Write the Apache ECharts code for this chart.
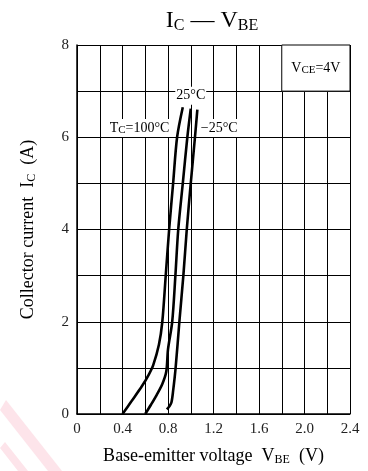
<!DOCTYPE html>
<html>
<head>
<meta charset="utf-8">
<script src="https://cdn.jsdelivr.net/npm/echarts@6/dist/echarts.min.js"></script>
<style>
  html, body { margin: 0; padding: 0; background: #fff; }
  #chart { width: 368px; height: 471px; }
</style>
</head>
<body>
<div id="chart"></div>
<script>
// IC - VBE curves, [VBE (V), IC (A)]
const tc100 = [[0.40, 0], [0.48, 0.28], [0.57, 0.6], [0.63, 0.85], [0.67, 1.06], [0.72, 1.5], [0.75, 2.0], [0.78, 3.0], [0.81, 4.0], [0.845, 5.0], [0.88, 6.0], [0.93, 6.65]];
const tc25 = [[0.60, 0], [0.65, 0.2], [0.70, 0.41], [0.75, 0.65], [0.785, 0.92], [0.80, 1.4], [0.837, 2.0], [0.865, 3.0], [0.89, 4.0], [0.93, 5.0], [0.97, 6.0], [1.0, 6.62]];
const tcm25 = [[0.79, 0.1], [0.81, 0.16], [0.83, 0.25], [0.845, 0.5], [0.867, 1.0], [0.90, 2.0], [0.935, 3.0], [0.965, 4.0], [1.0, 5.0], [1.037, 6.0], [1.058, 6.6]];

const xTicks = ['0', '0.4', '0.8', '1.2', '1.6', '2.0', '2.4'];
const yTicks = ['0', '2', '4', '6', '8'];

// label anchors [VBE, IC]
const label100 = [0.55, 6.2];
const label25 = [1.0, 6.9];
const labelM25 = [1.25, 6.2];

const serif = 'Liberation Serif, Times New Roman, serif';
const sub = { fontFamily: serif, fontSize: 11, color: '#000', verticalAlign: 'bottom', lineHeight: 10 };

function curve(data) {
  return {
    type: 'line',
    data: data,
    smooth: 0.3,
    symbol: 'none',
    lineStyle: { color: '#000', width: 2.6 },
    z: 5
  };
}

function tag(coord, text) {
  return {
    coord: coord,
    symbol: 'rect',
    symbolSize: 0,
    label: {
      show: true,
      position: 'inside',
      formatter: text,
      backgroundColor: '#fff',
      padding: [1, 1],
      rich: { n: { fontFamily: serif, fontSize: 14, color: '#000', lineHeight: 16 }, s: sub }
    }
  };
}

const chart = echarts.init(document.getElementById('chart'));
chart.setOption({
  animation: false,
  backgroundColor: '#fff',
  title: {
    text: '{a|I}{s|C}{a| — V}{s|BE}',
    left: 207,
    textAlign: 'center',
    top: 3,
    textStyle: {
      fontWeight: 'normal',
      rich: {
        a: { fontFamily: serif, fontSize: 24, fontWeight: 'normal', color: '#000', lineHeight: 26 },
        s: { fontFamily: serif, fontSize: 16, fontWeight: 'normal', color: '#000', verticalAlign: 'bottom', lineHeight: 16 }
      }
    }
  },
  graphic: [
    { type: 'polygon', silent: true, z: -10, shape: { points: [[0, 410], [6, 400], [62, 471], [48, 471]] }, style: { fill: '#fde4ea' } },
    { type: 'polygon', silent: true, z: -10, shape: { points: [[0, 448], [5, 442], [28, 471], [18, 471]] }, style: { fill: '#fde4ea' } }
  ],
  grid: { left: 77, right: 18, top: 45, bottom: 55 },
  xAxis: {
    type: 'value',
    min: 0,
    max: 2.4,
    interval: 0.2,
    axisLine: { show: true, onZero: false, lineStyle: { color: '#000', width: 1.5 } },
    axisTick: { show: false },
    axisLabel: {
      margin: 8,
      fontFamily: serif,
      fontSize: 15,
      color: '#222',
      formatter: function (v) {
        const i = Math.round(v / 0.4 * 1000) / 1000;
        return Number.isInteger(i) ? xTicks[i] : '';
      }
    },
    splitLine: { show: true, lineStyle: { color: '#000', width: 1 } },
    name: '{n|Base-emitter voltage  V}{s|BE}{n|  (V)}',
    nameLocation: 'middle',
    nameGap: 32,
    nameTextStyle: {
      rich: {
        n: { fontFamily: serif, fontSize: 18, color: '#000', lineHeight: 20 },
        s: { fontFamily: serif, fontSize: 12, color: '#000', verticalAlign: 'bottom', lineHeight: 11 }
      }
    }
  },
  yAxis: {
    type: 'value',
    min: 0,
    max: 8,
    interval: 1,
    axisLine: { show: true, onZero: false, lineStyle: { color: '#000', width: 1.5 } },
    axisTick: { show: false },
    axisLabel: {
      margin: 8,
      fontFamily: serif,
      fontSize: 15,
      color: '#222',
      formatter: function (v) {
        return v % 2 === 0 ? yTicks[v / 2] : '';
      }
    },
    splitLine: { show: true, lineStyle: { color: '#000', width: 1 } },
    name: '{n|Collector current  I}{s|C}{n|  (A)}',
    nameLocation: 'middle',
    nameGap: 39,
    nameTextStyle: {
      rich: {
        n: { fontFamily: serif, fontSize: 18, color: '#000', lineHeight: 20 },
        s: { fontFamily: serif, fontSize: 12, color: '#000', verticalAlign: 'bottom', lineHeight: 11 }
      }
    }
  },
  series: [
    Object.assign(curve(tc100), {
      markArea: {
        silent: true,
        itemStyle: { color: '#fff', borderColor: '#000', borderWidth: 1 },
        label: {
          show: true,
          position: 'inside',
          formatter: '{n|V}{s|CE}{n|=4V}',
          rich: { n: { fontFamily: serif, fontSize: 14, color: '#000', lineHeight: 16 }, s: sub }
        },
        data: [[{ coord: [1.8, 7] }, { coord: [2.4, 8] }]]
      },
      markPoint: {
        silent: true,
        data: [
          tag(label100, '{n|T}{s|C}{n|=100°C}'),
          tag(label25, '{n|25°C}'),
          tag(labelM25, '{n|−25°C}')
        ]
      }
    }),
    curve(tc25),
    curve(tcm25)
  ]
});
</script>
</body>
</html>
